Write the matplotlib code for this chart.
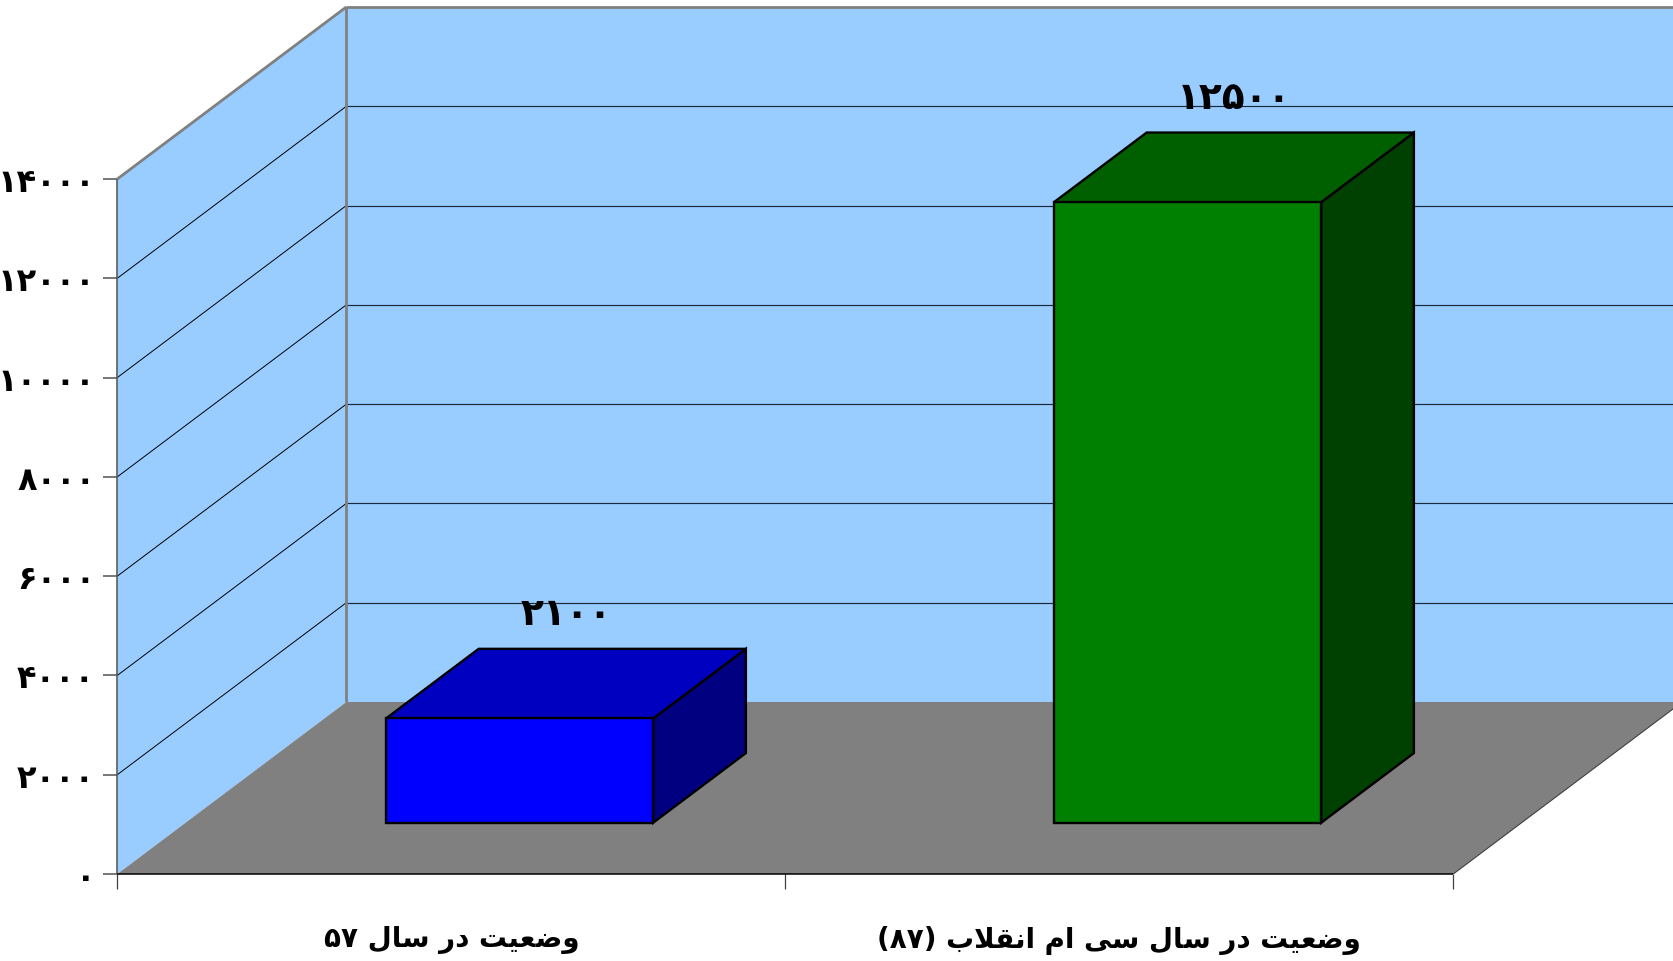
import matplotlib
matplotlib.use("Agg")
import matplotlib.pyplot as plt
from matplotlib.patches import Polygon

# ---- data ----
categories = ["وضعیت در سال ۵۷", "وضعیت در سال سی ام انقلاب (۸۷)"]
values = [2100, 12500]
value_labels = ["۲۱۰۰", "۱۲۵۰۰"]
y_ticks = [0, 2000, 4000, 6000, 8000, 10000, 12000, 14000]
y_tick_labels = ["۰", "۲۰۰۰", "۴۰۰۰", "۶۰۰۰", "۸۰۰۰", "۱۰۰۰۰", "۱۲۰۰۰", "۱۴۰۰۰"]
front_colors = ["#0000FF", "#008000"]
top_colors = ["#0000C0", "#006000"]
side_colors = ["#000080", "#004000"]

W, H = 1674, 962
FONT = "DejaVu Sans"
# iso, final, initial, medial (dual-joining) ; iso, final (right-joining)
FORMS = {
    "ب": "\uFE8F\uFE90\uFE91\uFE92", "ت": "\uFE95\uFE96\uFE97\uFE98",
    "س": "\uFEB1\uFEB2\uFEB3\uFEB4", "ض": "\uFEBD\uFEBE\uFEBF\uFEC0",
    "ع": "\uFEC9\uFECA\uFECB\uFECC", "ق": "\uFED5\uFED6\uFED7\uFED8",
    "ل": "\uFEDD\uFEDE\uFEDF\uFEE0", "م": "\uFEE1\uFEE2\uFEE3\uFEE4",
    "ن": "\uFEE5\uFEE6\uFEE7\uFEE8", "ی": "\uFBFC\uFBFD\uFBFE\uFBFF",
    "ا": "\uFE8D\uFE8E", "د": "\uFEA9\uFEAA", "ر": "\uFEAD\uFEAE", "و": "\uFEED\uFEEE",
}


def shape_word(word):
    if word[0] not in FORMS:
        return word  # numbers keep their reading order
    out, prev_joins, i = [], False, 0
    while i < len(word):
        c = word[i]
        if c == "ل" and i + 1 < len(word) and word[i + 1] == "ا":
            out.append("\uFEFC" if prev_joins else "\uFEFB")
            prev_joins, i = False, i + 2
            continue
        f = FORMS[c]
        next_ok = i + 1 < len(word)
        if len(f) == 4:
            g = f[3] if prev_joins and next_ok else f[1] if prev_joins else f[2] if next_ok else f[0]
            prev_joins = next_ok
        else:
            g = f[1] if prev_joins else f[0]
            prev_joins = False
        out.append(g)
        i += 1
    return "".join(reversed(out))


def shape(text):
    return " ".join(shape_word(w) for w in reversed(text.split(" ")))


fig = plt.figure(figsize=(W / 100, H / 100), dpi=100, facecolor="white")
ax = fig.add_axes([117.3 / W, 1 - 875 / H, (1453.3 - 117.3) / W, 695 / H])
ax.set_xlim(0, 2)
ax.set_ylim(0, 14000)
ax.patch.set_visible(False)
for s in ax.spines.values():
    s.set_visible(False)

# oblique projection: depth z in 0..1 shifts a point right and up
DX, DY = 229 / 668, 172 / 695 * 14000


def P(x, v, z=0.0):
    return (x + z * DX, v + z * DY)


def poly(pts, **kw):
    ax.add_patch(Polygon(pts, closed=True, clip_on=False, **kw))


def line(a, b, **kw):
    ax.plot(*zip(a, b), clip_on=False, solid_capstyle="butt", **kw)


vmax = y_ticks[-1]
WALL = "#99CCFF"
GREY = "#808080"
poly([P(0, 0), P(0, vmax), P(0, vmax, 1), P(0, 0, 1)], fc=WALL, ec="none", zorder=1)
poly([P(0, 0, 1), P(0, vmax, 1), P(2, vmax, 1), P(2, 0, 1)], fc=WALL, ec="none", zorder=1)
poly([P(0, 0), P(2, 0), P(2, 0, 1), P(0, 0, 1)], fc=GREY, ec="none", zorder=1.5)

for v in y_ticks[1:-1]:
    line(P(0, v), P(0, v, 1), color="black", lw=0.7, zorder=2)
    line(P(0, v, 1), P(2, v, 1), color="#1a2a3a", lw=0.85, zorder=2)

line(P(0, vmax), P(0, vmax, 1), color=GREY, lw=2.0, zorder=3)
line(P(0, vmax, 1), P(2, vmax, 1), color=GREY, lw=2.0, zorder=3)
line(P(0, 0, 1), P(0, vmax, 1), color=GREY, lw=2.0, zorder=3)
line(P(0, 0), P(0, vmax), color="#505050", lw=1.1, zorder=3)
line(P(0, 0), P(2, 0), color="black", lw=1.1, zorder=3)
line(P(2, 0), P(2, 0, 1), color="#404040", lw=0.8, zorder=3)

# bars
BAR_W, Z0, Z1 = 0.4, 0.298, 0.703
for i, v in enumerate(values):
    x0, x1 = i + 0.5 - BAR_W / 2, i + 0.5 + BAR_W / 2
    edge = dict(ec="black", lw=1.7, joinstyle="miter", zorder=4)
    poly([P(x1, 0, Z0), P(x1, 0, Z1), P(x1, v, Z1), P(x1, v, Z0)], fc=side_colors[i], **edge)
    poly([P(x0, v, Z0), P(x1, v, Z0), P(x1, v, Z1), P(x0, v, Z1)], fc=top_colors[i], **edge)
    poly([P(x0, 0, Z0), P(x1, 0, Z0), P(x1, v, Z0), P(x0, v, Z0)], fc=front_colors[i], **edge)
    cx, cy = P(i + 0.5, v + 1400, (Z0 + Z1) / 2)
    ax.text(cx, cy, value_labels[i], ha="center", va="center", fontsize=27, fontweight="bold",
            family=FONT, color="black", zorder=5, clip_on=False)

# axes ticks and labels
ax.set_yticks(y_ticks)
ax.set_yticklabels(y_tick_labels, family=FONT, fontweight="bold", fontsize=23)
ax.tick_params(axis="y", length=10, width=1.2, color="#606060", pad=6)
ax.set_xticks([0, 1, 2])
ax.set_xticklabels([])
ax.tick_params(axis="x", which="major", length=11, width=0.9, color="#404040")
ax.set_xticks([0.5, 1.5], minor=True)
ax.set_xticklabels([shape(c) for c in categories], minor=True, family=FONT,
                   fontweight="bold", fontsize=20)
ax.tick_params(axis="x", which="minor", length=0, pad=37)

fig.savefig("out.png", dpi=100, facecolor="white")
